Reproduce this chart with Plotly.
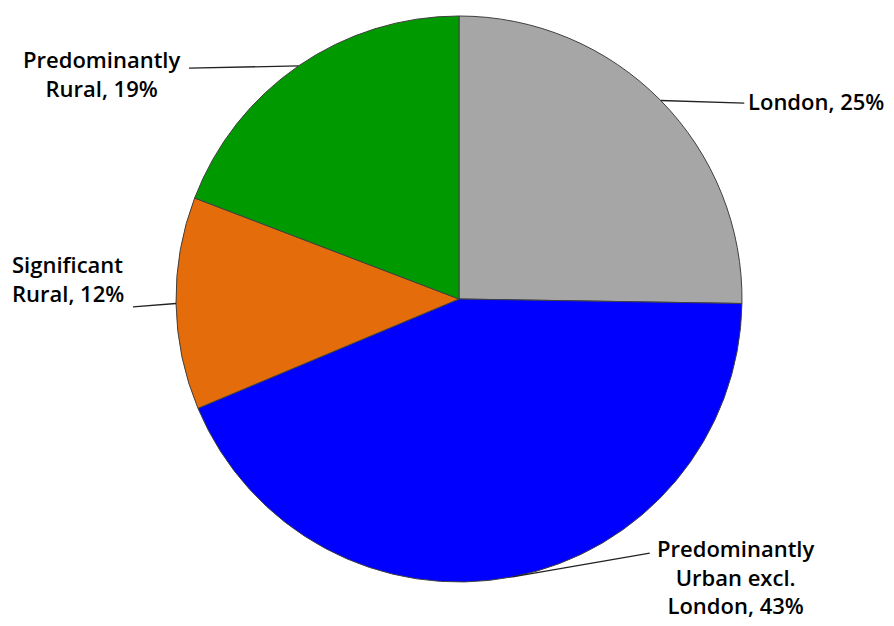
import math
import plotly.graph_objects as go

labels = ["London", "Predominantly Urban excl. London", "Significant Rural", "Predominantly Rural"]
values = [25, 43, 12, 19]
label_text = ["London, 25%", "Predominantly<br>Urban excl.<br>London, 43%",
              "Significant<br>Rural, 12%", "Predominantly<br>Rural, 19%"]
colors = ["#A6A6A6", "#0000FF", "#E46C0A", "#009900"]

# label placement (paper coords) and where each leader line ends
label_pos = [(1.007, 0.850, "left", "middle", "left"),
             (0.988, 0.090, "center", "top", "center"),
             (-0.293, 0.536, "left", "middle", "left"),
             (-0.1325, 0.898, "center", "middle", "center")]
line_end = [(1.004, 0.846), (0.837, 0.051), (-0.076, 0.486), (0.023, 0.908)]

fig = go.Figure(go.Pie(
    labels=labels, values=values, sort=False, direction="clockwise", rotation=0,
    marker=dict(colors=colors, line=dict(color="#404040", width=1)),
    textinfo="none", hoverinfo="label+percent", showlegend=False,
))

total = sum(values)
cum = 0
for i, v in enumerate(values):
    mid = (cum + v / 2) / total * 2 * math.pi
    cum += v
    ex = 0.5 + 0.5 * math.sin(mid)
    ey = 0.5 + 0.5 * math.cos(mid)
    fig.add_shape(type="line", xref="paper", yref="paper",
                  x0=ex, y0=ey, x1=line_end[i][0], y1=line_end[i][1],
                  line=dict(color="#222222", width=1.3))
    x, y, xa, ya, al = label_pos[i]
    fig.add_annotation(xref="paper", yref="paper", x=x, y=y, xanchor=xa, yanchor=ya,
                       align=al, text=label_text[i], showarrow=False,
                       font=dict(family="Open Sans", size=22, color="#000000", weight=600))

# page body adds an 8px offset, so margins are trimmed on the left/top
fig.update_layout(
    width=894, height=626,
    margin=dict(l=168, r=160, t=8, b=52),
    paper_bgcolor="white", plot_bgcolor="white",
)

fig.write_html("out.html")
